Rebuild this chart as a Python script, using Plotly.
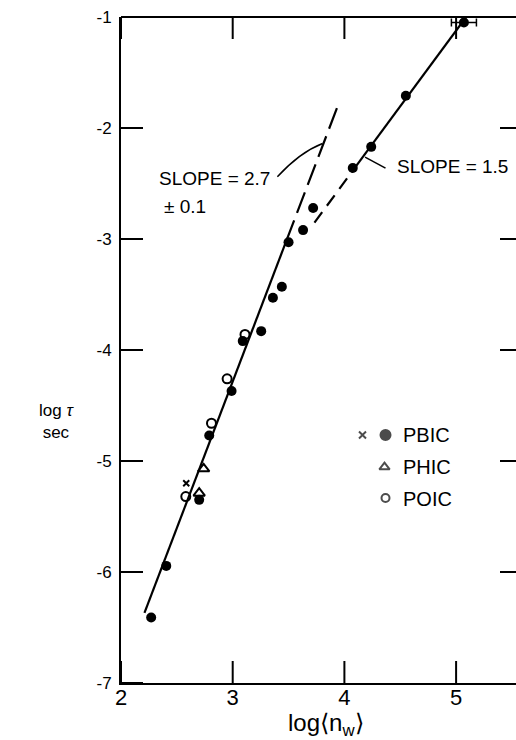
import plotly.graph_objects as go

# ---- data ----
pbic_x = [2.27, 2.405, 2.70, 2.79, 2.99, 3.09, 3.255, 3.36, 3.44, 3.50, 3.63, 3.72, 4.075, 4.24, 4.55, 5.07]
pbic_y = [-6.41, -5.945, -5.35, -4.77, -4.37, -3.92, -3.83, -3.53, -3.43, -3.03, -2.92, -2.72, -2.36, -2.17, -1.71, -1.05]
pbic_err = [0, 0, 0, 0, 0, 0, 0, 0, 0, 0, 0, 0, 0, 0, 0, 0.112]
pbicx_x = [2.584]
pbicx_y = [-5.20]
poic_x = [2.58, 2.81, 2.95, 3.11]
poic_y = [-5.32, -4.66, -4.26, -3.86]
phic_x = [2.74, 2.70]
phic_y = [-5.07, -5.29]

# fitted lines (slope 2.7 and slope 1.5): solid parts and dashed extensions
fit27_solid_x = [2.21, 3.48]
fit27_solid_y = [-6.369, -3.017]
fit27_dash_x = [3.48, 3.956]
fit27_dash_y = [-3.017, -1.761]
fit15_dash_x = [3.732, 4.063]
fit15_dash_y = [-2.853, -2.40]
fit15_solid_x = [4.063, 5.09]
fit15_solid_y = [-2.40, -1.0]

x_ticks = [2, 3, 4, 5]
y_ticks = [-7, -6, -5, -4, -3, -2, -1]
y_ticktext = ["-7", "-6", "-5", "-4", "-3", "-2", "-1"]
right_ticks = [-6, -5, -4, -3, -2]

FONT = "Liberation Sans"
BLACK = "black"

W, H = 516, 740
L, R, T, B = 121, 0, 17, 57
PW, PH = W - L - R, H - T - B
PX_PER_X = 111.7

fig = go.Figure()

line_w = 2.2
fig.add_trace(go.Scatter(x=fit27_solid_x, y=fit27_solid_y, mode="lines",
                         line=dict(color=BLACK, width=line_w), showlegend=False))
fig.add_trace(go.Scatter(x=fit27_dash_x, y=fit27_dash_y, mode="lines",
                         line=dict(color=BLACK, width=line_w, dash="22px,8px"), showlegend=False))
fig.add_trace(go.Scatter(x=fit15_dash_x, y=fit15_dash_y, mode="lines",
                         line=dict(color=BLACK, width=line_w, dash="13px,8px"), showlegend=False))
fig.add_trace(go.Scatter(x=fit15_solid_x, y=fit15_solid_y, mode="lines",
                         line=dict(color=BLACK, width=line_w), showlegend=False))

fig.add_trace(go.Scatter(x=poic_x, y=poic_y, mode="markers",
                         marker=dict(symbol="circle-open", size=9, color=BLACK, line=dict(width=2)),
                         showlegend=False))
fig.add_trace(go.Scatter(x=phic_x, y=phic_y, mode="markers",
                         marker=dict(symbol="triangle-up-open", size=10, color=BLACK, line=dict(width=2)),
                         showlegend=False))
fig.add_trace(go.Scatter(x=pbicx_x, y=pbicx_y, mode="markers",
                         marker=dict(symbol="x-thin-open", size=6, color=BLACK, line=dict(width=2)),
                         showlegend=False))
fig.add_trace(go.Scatter(x=pbic_x, y=pbic_y, mode="markers",
                         marker=dict(symbol="circle", size=10, color=BLACK),
                         error_x=dict(type="data", array=pbic_err, visible=True, color=BLACK,
                                      thickness=1.5, width=4),
                         showlegend=False))

# legend (drawn in the chart area like the original)
leg_sym_x = [4.162, 4.368, 4.359, 4.368]
leg_sym_y = [-4.766, -4.766, -5.055, -5.334]
leg_symbols = ["x-thin-open", "circle", "triangle-up-open", "circle-open"]
leg_sizes = [7, 10, 9, 8]
fig.add_trace(go.Scatter(x=leg_sym_x, y=leg_sym_y, mode="markers",
                         marker=dict(symbol=leg_symbols, size=leg_sizes, color=BLACK,
                                     line=dict(width=2, color=BLACK)),
                         showlegend=False))
leg_labels = ["PBIC", "PHIC", "POIC"]
leg_label_y = [-4.766, -5.055, -5.34]
for t, yy in zip(leg_labels, leg_label_y):
    fig.add_annotation(x=4.505, y=yy, xref="x", yref="y", text=t, showarrow=False,
                       xanchor="left", yanchor="middle", font=dict(family=FONT, size=20, color=BLACK))

# slope annotations
fig.add_annotation(x=3.35, y=-2.458, xref="x", yref="y", text="SLOPE = 2.7", showarrow=False,
                   xanchor="right", yanchor="middle", font=dict(family=FONT, size=19, color=BLACK))
fig.add_annotation(x=2.775, y=-2.71, xref="x", yref="y", text="± 0.1", showarrow=False,
                   xanchor="right", yanchor="middle", font=dict(family=FONT, size=19, color=BLACK))
fig.add_annotation(x=4.449, y=-2.347, xref="x", yref="y", text="SLOPE = 1.5", showarrow=False,
                   xanchor="left", yanchor="middle", font=dict(family=FONT, size=19, color=BLACK))

fig.add_shape(type="path", xref="x", yref="y",
              path="M 3.40,-2.44 Q 3.60,-2.22 3.804,-2.14",
              line=dict(color=BLACK, width=1.5))
fig.add_shape(type="line", xref="x", yref="y", x0=4.368, y0=-2.362, x1=4.185, y1=-2.262,
              line=dict(color=BLACK, width=1.5))

# frame: top line and inner ticks on all sides
TICK = 22
fig.add_shape(type="line", xref="paper", yref="paper", x0=0, x1=1, y0=1, y1=1,
              line=dict(color=BLACK, width=2))
for v in x_ticks:
    fig.add_shape(type="line", xref="x", yref="paper", x0=v, x1=v, y0=0, y1=TICK / PH,
                  line=dict(color=BLACK, width=2))
    fig.add_shape(type="line", xref="x", yref="paper", x0=v, x1=v, y0=1, y1=1 - TICK / PH,
                  line=dict(color=BLACK, width=2))
for v in y_ticks:
    fig.add_shape(type="line", xref="paper", yref="y", x0=0, x1=TICK / PW, y0=v, y1=v,
                  line=dict(color=BLACK, width=2))
for v in right_ticks:
    fig.add_shape(type="line", xref="paper", yref="y", x0=1 - 16 / PW, x1=1, y0=v, y1=v,
                  line=dict(color=BLACK, width=2))

# axis titles placed in pixels, converted to paper coords
def px2paper(px, py):
    return (px - L) / PW, 1 - (py - T) / PH

xx, yy = px2paper(326, 742)
fig.add_annotation(x=xx, y=yy, xref="paper", yref="paper", text="log\u27e8n<sub>w</sub>\u27e9",
                   xanchor="center", yanchor="bottom",
                   showarrow=False, font=dict(family=FONT, size=24, color=BLACK))
xx, yy = px2paper(56, 421)
fig.add_annotation(x=xx, y=yy, xref="paper", yref="paper", text="log <i>τ</i><br>sec", showarrow=False,
                   xanchor="center", yanchor="middle",
                   font=dict(family=FONT, size=17, color=BLACK), align="center")

fig.update_layout(
    width=W, height=H,
    margin=dict(l=L, r=R, t=T, b=B, autoexpand=False),
    plot_bgcolor="white", paper_bgcolor="white",
    font=dict(family=FONT, color=BLACK),
    xaxis=dict(range=[2, 2 + PW / PX_PER_X], tickvals=x_ticks, ticktext=[str(v) for v in x_ticks],
               showgrid=False, zeroline=False, showline=True, linecolor=BLACK, linewidth=2,
               ticks="", tickfont=dict(family=FONT, size=22, color=BLACK), automargin=False,
               ticklabelstandoff=-6),
    yaxis=dict(range=[-7, -1], tickvals=y_ticks, ticktext=y_ticktext,
               showgrid=False, zeroline=False, showline=True, linecolor=BLACK, linewidth=2,
               ticks="", tickfont=dict(family=FONT, size=17, color=BLACK), automargin=False,
               ticklabelstandoff=4),
)

fig.write_html("out.html", config={"displayModeBar": False},
               post_script="document.body.style.margin='0';document.body.style.overflow='hidden';")
